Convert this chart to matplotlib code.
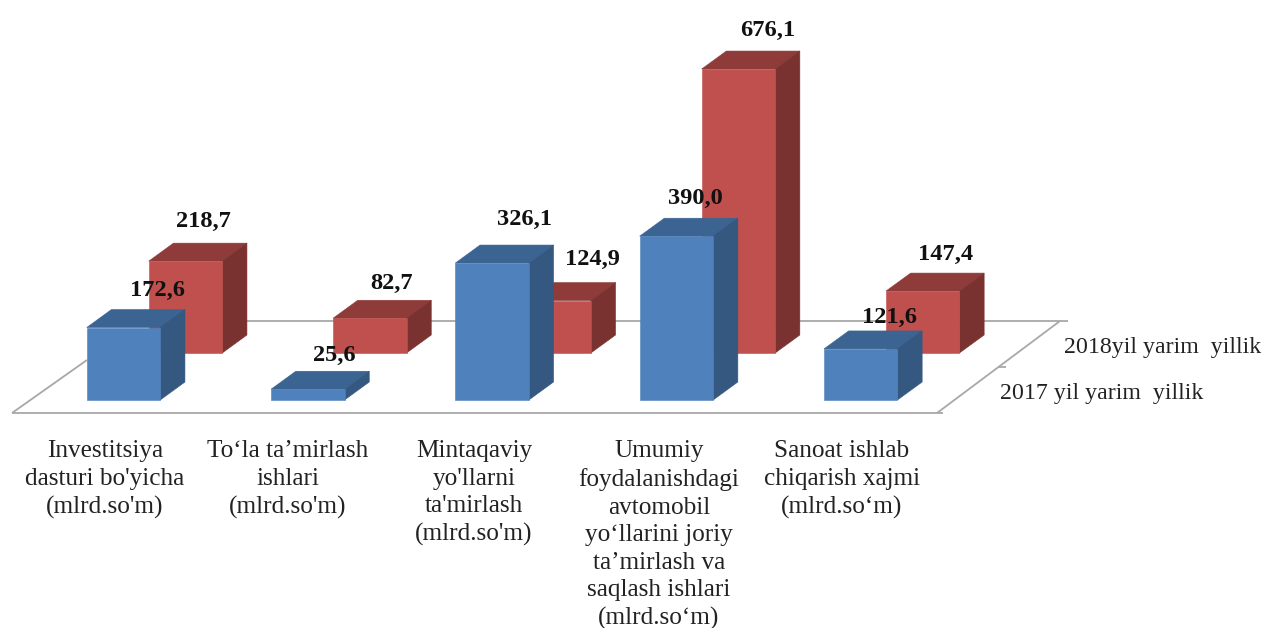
#!/usr/bin/env python3
import matplotlib
matplotlib.use('Agg')
import matplotlib.pyplot as plt
from matplotlib.patches import Polygon
from matplotlib.transforms import Affine2D

plt.rcParams['font.family'] = ['Liberation Serif', 'DejaVu Serif']

# Data
categories = [
    "Investitsiya\ndasturi bo'yicha\n(mlrd.so'm)",
    "To‘la ta’mirlash\nishlari\n(mlrd.so'm)",
    "Mintaqaviy\nyo'llarni\nta'mirlash\n(mlrd.so'm)",
    "Umumiy\nfoydalanishdagi\navtomobil\nyo‘llarini joriy\nta’mirlash va\nsaqlash ishlari\n(mlrd.so‘m)",
    "Sanoat ishlab\nchiqarish xajmi\n(mlrd.so‘m)",
]
values_2017 = [172.6, 25.6, 326.1, 390.0, 121.6]
values_2018 = [218.7, 82.7, 124.9, 676.1, 147.4]
series_2017 = '2017 yil yarim  yillik'
series_2018 = '2018yil yarim  yillik'

W, H = 1265, 628
PX_PER_UNIT = 0.42     # vertical scale
PX_PER_CAT = 184.3     # horizontal scale
X0 = 123.5             # centre of first front bar, px
Y0 = 400               # baseline of front row, px

BAR_W = 73.5 / PX_PER_CAT
DEPTH_X = 24.7 / PX_PER_CAT
DEPTH_Y = 18 / PX_PER_UNIT
ROW_X = 62 / PX_PER_CAT
ROW_Y = 47 / PX_PER_UNIT

BLUE = ('#4F81BD', '#3B6493', '#34587F')
RED = ('#C0504D', '#8E3B39', '#7A3230')

fig = plt.figure(figsize=(W / 100, H / 100), dpi=100)
ax = fig.add_axes([0, 0, 1, 1])
ax.set_xlim(-X0 / PX_PER_CAT, (W - X0) / PX_PER_CAT)
ax.set_ylim((Y0 - H) / PX_PER_UNIT, Y0 / PX_PER_UNIT)
ax.axis('off')

# image-pixel coordinates for the floor and free text
px = Affine2D().scale(1, -1).translate(0, H)


def line(xs, ys):
    ax.plot(xs, ys, color='#A8A8A8', lw=1.3, transform=px, zorder=1, solid_capstyle='butt')


def bar3d(x, base, value, colors, z):
    """Front, top and side faces of a pseudo 3D column"""
    l, r = x - BAR_W / 2, x + BAR_W / 2
    top = base + value
    front = [(l, base), (r, base), (r, top), (l, top)]
    roof = [(l, top), (r, top), (r + DEPTH_X, top + DEPTH_Y), (l + DEPTH_X, top + DEPTH_Y)]
    side = [(r, base), (r + DEPTH_X, base + DEPTH_Y), (r + DEPTH_X, top + DEPTH_Y), (r, top)]
    for pts, c in ((roof, colors[1]), (side, colors[2]), (front, colors[0])):
        ax.add_patch(Polygon(pts, closed=True, facecolor=c, edgecolor=c, lw=0.4, zorder=z))


# Floor
line([12, 943], [413, 413])
line([12, 87], [413, 360])
line([135, 1068], [321, 321])
line([937, 1060], [413, 321])
line([998, 1006], [367, 367])

# Columns, back row first
for i, v in enumerate(values_2018):
    bar3d(i + ROW_X, ROW_Y, v, RED, 2 + i * 0.01)
for i, v in enumerate(values_2017):
    bar3d(i, 0, v, BLUE, 3 + i * 0.01)

# Data labels, hand placed in the original
offs_2017 = [(34, 37), (27, 34), (32, 44), (19, 38), (29, 31)]
offs_2018 = [(18, 40), (22, 35), (38, 41), (29, 39), (23, 37)]
for i, (v, o) in enumerate(zip(values_2017, offs_2017)):
    ax.annotate(f'{v:.1f}'.replace('.', ','), (i, v), xytext=o, textcoords='offset pixels',
                ha='center', va='center', fontsize=17.6, weight='bold', color='#111111', zorder=5)
for i, (v, o) in enumerate(zip(values_2018, offs_2018)):
    ax.annotate(f'{v:.1f}'.replace('.', ','), (i + ROW_X, ROW_Y + v), xytext=o,
                textcoords='offset pixels', ha='center', va='center', fontsize=17.6,
                weight='bold', color='#111111', zorder=5)

# Category labels
label_x = [105, 288, 474, 659, 842]
for x, name in zip(label_x, categories):
    ax.text(x, 440, name, transform=px, ha='center', va='top', fontsize=18.2,
            color='#222222', linespacing=1.33, zorder=5)

# Series names
ax.text(1064, 348, series_2018, transform=px, ha='left', va='center', fontsize=17.2, color='#222222')
ax.text(1000, 394, series_2017, transform=px, ha='left', va='center', fontsize=17.2, color='#222222')

fig.savefig('out.png', dpi=100)
plt.close(fig)
